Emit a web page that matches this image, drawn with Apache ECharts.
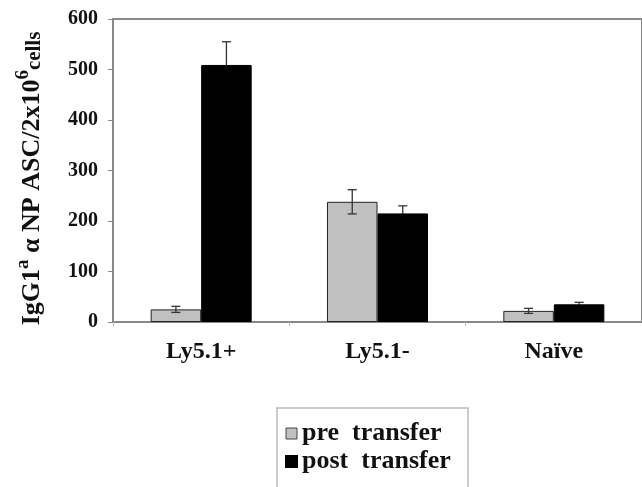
<!DOCTYPE html>
<html>
<head>
<meta charset="utf-8">
<script src="https://cdn.jsdelivr.net/npm/echarts@6/dist/echarts.min.js"></script>
<style>
html,body{margin:0;padding:0;background:#fff;}
#c{width:642px;height:487px;}
</style>
</head>
<body>
<div id="c"></div>
<script>
var categories = ['Ly5.1+', 'Ly5.1-', 'Naïve'];
var preValues = [25, 238, 22];
var preErrors = [6, 24, 5];
var postValues = [509, 215, 35];
var postErrors = [46, 15, 4];
var yTicks = [0, 100, 200, 300, 400, 500, 600];
var seriesNames = ['pre  transfer', 'post  transfer'];

var FONT = "'Liberation Serif', 'Times New Roman', serif";
var BAR_W = 0.2865;

function errorSeries(values, errors, sign, name, z) {
  return {
    type: 'custom',
    name: name + ' err',
    silent: true,
    z: z,
    data: values.map(function (v, i) { return [i, v, errors[i]]; }),
    renderItem: function (params, api) {
      var idx = api.value(0), v = api.value(1), e = api.value(2);
      var band = api.size([1, 0])[0];
      var off = sign * band * BAR_W / 2;
      var top = api.coord([idx, v + e]);
      var bot = api.coord([idx, v - e]);
      var x = top[0] + off;
      var hw = 4.5;
      var st = { stroke: '#333', lineWidth: 1.3 };
      return {
        type: 'group',
        children: [
          { type: 'line', shape: { x1: x, y1: top[1], x2: x, y2: bot[1] }, style: st },
          { type: 'line', shape: { x1: x - hw, y1: top[1], x2: x + hw, y2: top[1] }, style: st },
          { type: 'line', shape: { x1: x - hw, y1: bot[1], x2: x + hw, y2: bot[1] }, style: st }
        ]
      };
    }
  };
}

var chart = echarts.init(document.getElementById('c'));
chart.setOption({
  backgroundColor: '#fff',
  animation: false,
  grid: {
    left: 113, top: 19, width: 534, height: 303,
    show: true, borderColor: '#888', borderWidth: 2, backgroundColor: 'transparent'
  },
  xAxis: {
    type: 'category',
    data: categories,
    axisLine: { lineStyle: { color: '#888', width: 1.5 } },
    axisTick: { show: true, length: 4, lineStyle: { color: '#bbb' } },
    axisLabel: { fontFamily: FONT, fontWeight: 'bold', fontSize: 24, color: '#111', margin: 18 }
  },
  yAxis: {
    type: 'value',
    min: yTicks[0], max: yTicks[yTicks.length - 1], interval: 100,
    splitLine: { show: false },
    axisLine: { show: true, lineStyle: { color: '#888', width: 2 } },
    axisTick: { show: true, length: 5, lineStyle: { color: '#888' } },
    axisLabel: { fontFamily: FONT, fontWeight: 'bold', fontSize: 20, color: '#111', margin: 15 },
    name: '{m|IgG1}{sup|a}{m| α NP ASC/2x10}{sup|6}{s|cells}',
    nameLocation: 'middle',
    nameGap: 68,
    nameRotate: 90,
    nameTextStyle: {
      fontFamily: FONT, fontWeight: 'bold', color: '#111',
      padding: [0, 16, 0, 0],
      rich: {
        m: { fontFamily: FONT, fontWeight: 'bold', fontSize: 26, lineHeight: 31, verticalAlign: 'bottom', color: '#111' },
        sup: { fontFamily: FONT, fontWeight: 'bold', fontSize: 19, lineHeight: 19, verticalAlign: 'top', color: '#111' },
        s: { fontFamily: FONT, fontWeight: 'bold', fontSize: 21, lineHeight: 25, verticalAlign: 'bottom', color: '#111' }
      }
    }
  },
  legend: {
    orient: 'vertical',
    left: 285, top: 420,
    padding: 0,
    itemGap: 1,
    itemWidth: 11, itemHeight: 11,
    icon: 'rect',
    textStyle: { fontFamily: FONT, fontWeight: 'bold', fontSize: 26, lineHeight: 27, color: '#111' },
    data: [
      { name: seriesNames[0], itemStyle: { color: '#c0c0c0', borderColor: '#444', borderWidth: 1 } },
      { name: seriesNames[1], itemStyle: { color: '#000' } }
    ]
  },
  graphic: [
    { type: 'rect', shape: { x: 277, y: 408, width: 191, height: 120 },
      style: { fill: 'none', stroke: '#bbb', lineWidth: 1.5 }, z: -1 }
  ],
  series: [
    {
      type: 'bar', name: seriesNames[0], data: preValues,
      barWidth: (BAR_W * 100) + '%', barGap: '0%', z: 2,
      itemStyle: { color: '#c0c0c0', borderColor: '#222', borderWidth: 1 }
    },
    {
      type: 'bar', name: seriesNames[1], data: postValues,
      barWidth: (BAR_W * 100) + '%', barGap: '0%', z: 2,
      itemStyle: { color: '#000', borderColor: '#000', borderWidth: 1 }
    },
    errorSeries(preValues, preErrors, -1, seriesNames[0], 10),
    errorSeries(postValues, postErrors, 1, seriesNames[1], 1)
  ]
});
</script>
</body>
</html>
